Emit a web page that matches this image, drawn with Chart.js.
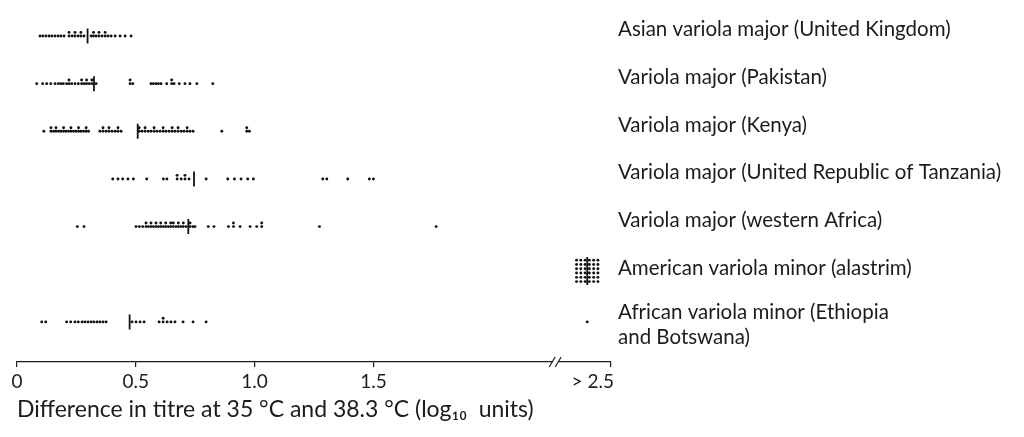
<!DOCTYPE html>
<html>
<head>
<meta charset="utf-8">
<script src="https://cdn.jsdelivr.net/npm/chart.js@4.4.1/dist/chart.umd.min.js"></script>
<style>
  html, body { margin: 0; padding: 0; background: #ffffff; overflow: hidden; }
  canvas { display: block; }
</style>
</head>
<body>
<canvas id="c" width="1024" height="437"></canvas>
<script>
// ---- data ----
const rowLabels = [
  'Asian variola major (United Kingdom)',
  'Variola major (Pakistan)',
  'Variola major (Kenya)',
  'Variola major (United Republic of Tanzania)',
  'Variola major (western Africa)',
  'American variola minor (alastrim)',
  ['African variola minor (Ethiopia', 'and Botswana)']
];
const ukValues = [0.097,0.109,0.122,0.135,0.147,0.160,0.173,0.185,0.198,0.219,0.219,0.232,0.244,0.244,0.257,0.269,0.269,0.282,
  0.312,0.322,0.322,0.333,0.345,0.345,0.358,0.371,0.371,0.383,0.396,0.413,0.434,0.455,0.480];
const pakistanValues = [0.083,0.108,0.125,0.142,0.160,0.174,0.185,0.195,0.209,0.219,0.219,0.230,0.244,0.258,0.272,0.272,0.283,0.293,0.293,0.304,0.315,0.315,
  0.333,0.476,0.476,0.487,0.564,0.574,0.585,0.595,0.606,0.630,0.651,0.651,0.661,0.683,0.707,0.728,0.757,0.824];
const kenyaValues = [0.113,0.143,0.143,0.154,0.164,0.164,0.175,0.185,0.196,0.196,0.206,0.217,0.227,0.227,0.238,0.248,0.259,0.259,0.269,0.280,0.291,0.291,0.301,
  0.349,0.362,0.362,0.375,0.387,0.387,0.400,0.413,0.425,0.425,0.438,
  0.514,0.514,0.526,0.539,0.539,0.552,0.564,0.577,0.577,0.589,0.602,0.615,0.615,0.627,0.640,0.653,0.653,0.665,0.678,0.678,0.691,0.703,0.716,0.716,0.728,0.741,
  0.862,0.967,0.967,0.978];
const tanzaniaValues = [0.403,0.425,0.445,0.467,0.490,0.546,0.616,0.631,0.674,0.674,0.691,0.707,0.707,0.724,
  0.796,0.887,0.915,0.943,0.971,0.995,1.287,1.304,1.392,1.483,1.500];
const westAfricaValues = [0.254,0.282,0.501,0.515,0.529,0.543,0.543,0.553,0.564,0.564,0.574,0.585,0.585,0.595,0.605,0.605,0.616,0.626,0.626,0.637,0.647,0.647,0.658,0.658,0.669,0.679,0.679,0.689,0.700,0.700,0.712,
  0.728,0.728,0.740,0.749,0.805,0.829,0.890,0.911,0.911,0.939,0.981,1.009,1.030,1.030,1.273,1.764];
const alastrimValues = [];
const africaMinorValues = [0.104,0.121,0.209,0.226,0.244,0.258,0.274,0.286,0.299,0.312,0.324,0.337,0.349,0.362,0.375,
  0.484,0.501,0.518,0.535,0.598,0.615,0.615,0.632,0.648,0.665,0.699,0.741,0.796];
const medians = [0.297, 0.324, 0.508, 0.745, 0.721, null, 0.474];
const overCounts = [0, 0, 0, 0, 0, 36, 1];   // isolates with difference > 2.5
const tickValues = [0, 0.5, 1.0, 1.5, 2.5];
const tickLabels = ['0', '0.5', '1.0', '1.5', '> 2.5'];
const overPosition = 2.4;                     // where the ">2.5" column is plotted
const breakAt = 2.265;

// ---- build point sets ----
const rows = [ukValues, pakistanValues, kenyaValues, tanzaniaValues, westAfricaValues, alastrimValues, africaMinorValues];
const dots = [];
rows.forEach((vals, i) => {
  const seen = {};
  vals.forEach(v => {
    const k = seen[v] || 0; seen[v] = k + 1;
    dots.push({x: v, y: i - k * 0.075});
  });
});
const gridCols = 6;
overCounts.forEach((n, i) => {
  if (n === 1) dots.push({x: overPosition, y: i});
  else if (n > 1) {
    const gr = Math.ceil(n / gridCols);
    for (let j = 0; j < n; j++) {
      const c = j % gridCols, r = Math.floor(j / gridCols);
      dots.push({x: overPosition + (c - (gridCols - 1) / 2) * 0.018, y: i - 0.07 + (r - (gr - 1) / 2) * 0.09});
    }
  }
});
const medianPts = [];
const medianSizes = [];
medians.forEach((m, i) => { if (m !== null) { medianPts.push({x: m, y: i}); medianSizes.push(7.5); } });
overCounts.forEach((n, i) => { if (n > 1) { medianPts.push({x: overPosition, y: i - 0.07}); medianSizes.push(14); } });

const FONT = 'Lato, "Open Sans", sans-serif';
const ink = '#1c1c1c';
const Y_MIN = -0.35, Y_MAX = 6.842;

const extras = {
  id: 'extras',
  afterDraw(chart) {
    const {ctx, scales: {x}, chartArea} = chart;
    const yb = chartArea.bottom;
    ctx.save();
    ctx.fillStyle = ink;
    ctx.font = '19px ' + FONT;
    ctx.textAlign = 'right';
    ctx.textBaseline = 'top';
    ctx.fillText(tickLabels[4], x.getPixelForValue(tickValues[4]) + 3, yb + 10);
    const bx = x.getPixelForValue(breakAt);
    ctx.fillStyle = '#ffffff';
    ctx.fillRect(bx - 2, yb - 2, 5, 4);
    ctx.strokeStyle = ink;
    ctx.lineWidth = 1.2;
    [-3, 3].forEach(d => {
      ctx.beginPath();
      ctx.moveTo(bx + d - 3, yb + 5);
      ctx.lineTo(bx + d + 3, yb - 5);
      ctx.stroke();
    });
    ctx.restore();
  }
};

new Chart(document.getElementById('c'), {
  type: 'scatter',
  data: {
    datasets: [
      { label: 'isolates', data: dots, pointRadius: 1.45, pointHoverRadius: 1.45,
        backgroundColor: '#111', borderColor: '#111', borderWidth: 0 },
      { label: 'median', data: medianPts, pointStyle: 'line', rotation: 90,
        pointRadius: medianSizes, pointHoverRadius: medianSizes,
        borderColor: '#111', borderWidth: 1.8 }
    ]
  },
  options: {
    responsive: false,
    animation: false,
    devicePixelRatio: 1,
    layout: { padding: { left: 17, right: 0, top: 8, bottom: 14 } },
    plugins: { legend: { display: false }, tooltip: { enabled: false } },
    scales: {
      x: {
        type: 'linear', min: 0, max: 2.5,
        afterBuildTicks: s => { s.ticks = tickValues.map(v => ({value: v})); },
        afterFit: s => { s.height = 61; },
        grid: { display: true, drawOnChartArea: false, tickLength: 5, color: ink, lineWidth: 1.2 },
        border: { display: true, color: ink, width: 1.3 },
        ticks: {
          color: ink, font: { family: FONT, size: 19 }, padding: 3, maxRotation: 0, autoSkip: false,
          callback: (v) => { const i = tickValues.indexOf(v); return i >= 0 && i < 4 ? tickLabels[i] : ''; }
        },
        title: { display: true, align: 'start', text: 'Difference in titre at 35 °C and 38.3 °C (log₁₀  units)',
          color: ink, font: { family: FONT, size: 23 }, padding: { top: 0, bottom: 0 } }
      },
      y: {
        type: 'linear', position: 'right', reverse: true, min: Y_MIN, max: Y_MAX,
        afterBuildTicks: s => {
          s.ticks = [{value: Y_MIN}]
            .concat(rowLabels.map((l, i) => ({value: i + (Array.isArray(l) ? 0.06 : -0.13)})))
            .concat([{value: Y_MAX}]);
        },
        afterFit: s => { s.width = 413; },
        grid: { display: false, tickLength: 0, drawTicks: false },
        border: { display: false },
        ticks: {
          color: ink, font: { family: FONT, size: 20.5 }, padding: 7, autoSkip: false,
          callback: (v, idx) => (idx >= 1 && idx <= rowLabels.length) ? rowLabels[idx - 1] : ''
        }
      }
    }
  },
  plugins: [extras]
});
</script>
</body>
</html>
